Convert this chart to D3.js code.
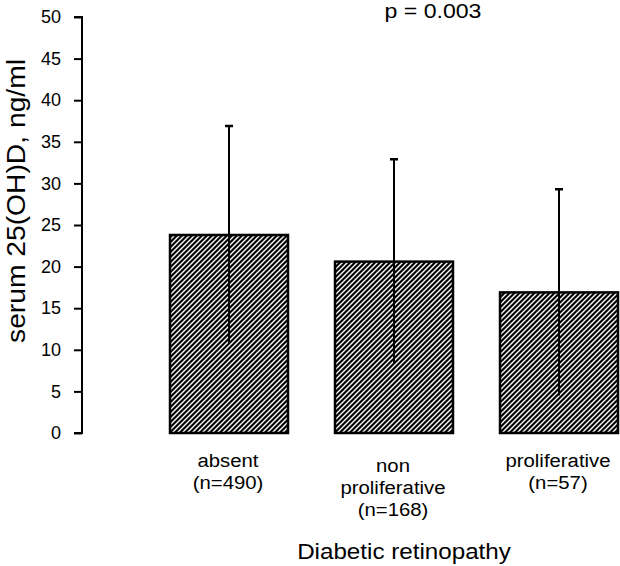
<!DOCTYPE html>
<html>
<head>
<meta charset="utf-8">
<script src="https://cdn.jsdelivr.net/npm/d3@7/dist/d3.min.js"></script>
<style>
  html, body { margin: 0; padding: 0; background: #fff; }
  svg { display: block; font-family: "Liberation Sans", Arial, sans-serif; }
</style>
</head>
<body>
<svg id="chart" width="620" height="566"></svg>
<script>
const categories = ["absent", "non proliferative", "proliferative"];
const categoryLabels = [["absent", "(n=490)"], ["non", "proliferative", "(n=168)"], ["proliferative", "(n=57)"]];
const means = [23.8, 20.6, 16.9];
const sds = [13.1, 12.3, 12.4];
const yTicks = [0, 5, 10, 15, 20, 25, 30, 35, 40, 45, 50];
const yTitle = "serum 25(OH)D, ng/ml";
const xTitle = "Diabetic retinopathy";
const pText = "p = 0.003";

(function () {
const svg = d3.select("#chart");
const axisX = 82, plotTop = 17, plotBottom = 433;

const y = d3.scaleLinear().domain([0, 50]).range([plotBottom, plotTop]);
const x = d3.scaleBand().domain(categories).range([146.5, 641.5]).paddingInner(0.285).paddingOuter(0.1425);

// hatch pattern
const defs = svg.append("defs");
const pat = defs.append("pattern").attr("id", "hatch").attr("patternUnits", "userSpaceOnUse")
  .attr("width", 5).attr("height", 5);
pat.append("rect").attr("width", 5).attr("height", 5).attr("fill", "#000");
pat.append("path").attr("d", "M-1,1 L1,-1 M0,5 L5,0 M4,6 L6,4")
  .attr("stroke", "#fff").attr("stroke-width", 1.4);

// y axis
const yAxis = d3.axisLeft(y).tickValues(yTicks).tickSize(8).tickPadding(13);
const gy = svg.append("g").attr("transform", `translate(${axisX},0)`).call(yAxis);
gy.select(".domain").attr("stroke", "#000").attr("stroke-width", 2)
  .attr("d", `M-8,${y(50)}H0V${y(0)}H-8`);
gy.selectAll(".tick line").attr("stroke", "#000").attr("stroke-width", 2);
gy.selectAll(".tick text").attr("font-size", 18).attr("fill", "#000")
  .attr("font-family", "Liberation Sans, Arial, sans-serif");

// bars
const data = categories.map((c, i) => ({ c, m: means[i], sd: sds[i], lines: categoryLabels[i] }));
svg.append("g").selectAll("rect").data(data).join("rect")
  .attr("x", d => x(d.c)).attr("y", d => y(d.m))
  .attr("width", x.bandwidth()).attr("height", d => y(0) - y(d.m))
  .attr("fill", "url(#hatch)").attr("stroke", "#000").attr("stroke-width", 2.5);

// error bars
const eb = svg.append("g");
eb.selectAll("line.v").data(data).join("line").attr("class", "v")
  .attr("x1", d => x(d.c) + x.bandwidth() / 2).attr("x2", d => x(d.c) + x.bandwidth() / 2)
  .attr("y1", d => y(d.m - d.sd)).attr("y2", d => y(d.m + d.sd))
  .attr("stroke", "#000").attr("stroke-width", 2);
eb.selectAll("line.cap").data(data).join("line").attr("class", "cap")
  .attr("x1", d => x(d.c) + x.bandwidth() / 2 - 4).attr("x2", d => x(d.c) + x.bandwidth() / 2 + 4)
  .attr("y1", d => y(d.m + d.sd)).attr("y2", d => y(d.m + d.sd))
  .attr("stroke", "#000").attr("stroke-width", 2.5);

// category labels
const lab = svg.append("g").selectAll("g").data(data).join("g")
  .attr("transform", d => `translate(${x(d.c) + x.bandwidth() / 2 - 1},${d.lines.length === 3 ? 472 : 467}) scale(1.13,1)`);
lab.each(function (d) {
  const g = d3.select(this);
  d.lines.forEach((t, k) => {
    g.append("text").attr("x", 0).attr("y", k * 21.8).attr("text-anchor", "middle")
      .attr("font-size", 18).attr("fill", "#000").text(t);
  });
});

// x title
svg.append("text").attr("transform", "translate(404,559) scale(1.1,1)")
  .attr("text-anchor", "middle").attr("font-size", 22).attr("fill", "#000").text(xTitle);

// y title
svg.append("text").attr("transform", "translate(25,201) rotate(-90) scale(1.13,1)")
  .attr("text-anchor", "middle").attr("font-size", 25).attr("fill", "#000").text(yTitle);

// p value
svg.append("text").attr("transform", "translate(433,18) scale(1.1,1)")
  .attr("text-anchor", "middle").attr("font-size", 21).attr("fill", "#000").text(pText);
})();
</script>
</body>
</html>
